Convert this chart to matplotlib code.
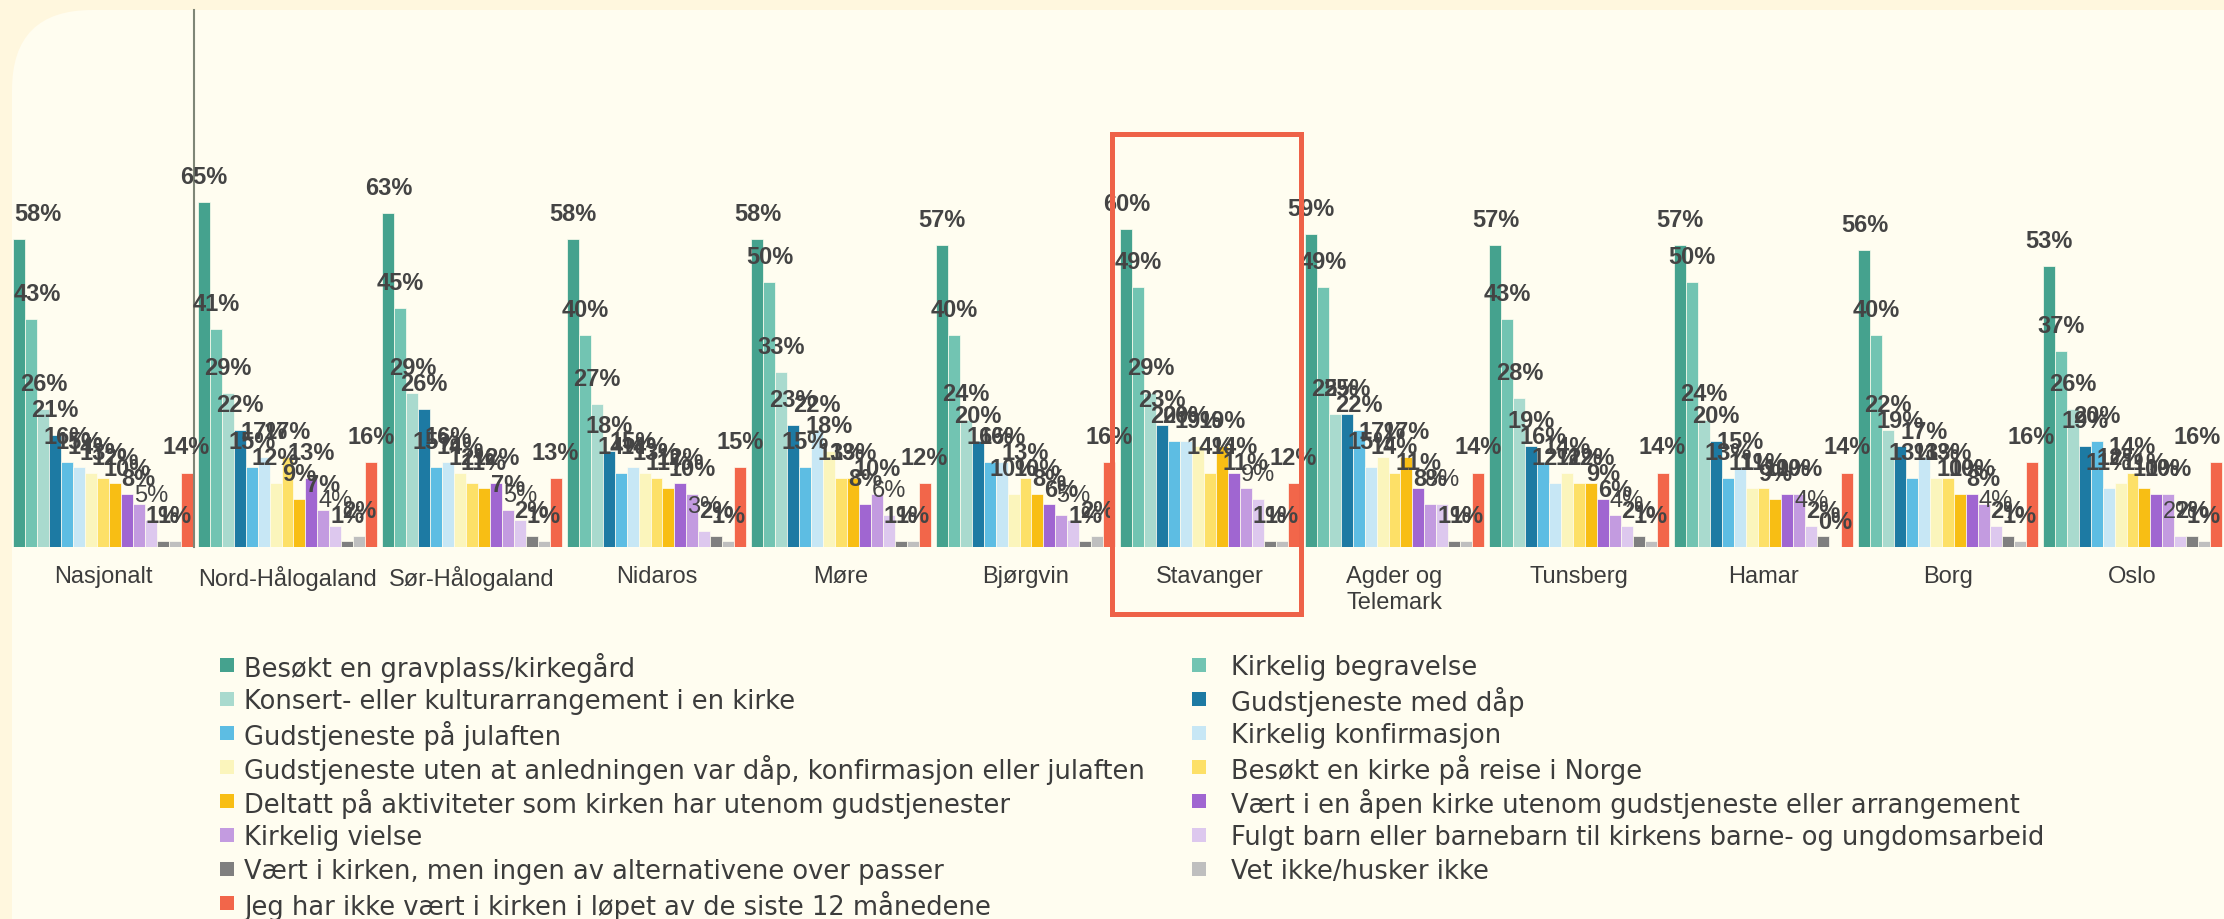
import matplotlib
matplotlib.use("Agg")
import matplotlib.pyplot as plt
import numpy as np
from matplotlib.patches import FancyBboxPatch, Rectangle
from matplotlib.transforms import IdentityTransform

# ---------------- data ----------------
regions = ["Nasjonalt", "Nord-Hålogaland", "Sør-Hålogaland", "Nidaros", "Møre",
           "Bjørgvin", "Stavanger", "Agder og\nTelemark", "Tunsberg", "Hamar",
           "Borg", "Oslo"]

series_names = [
    "Besøkt en gravplass/kirkegård",
    "Kirkelig begravelse",
    "Konsert- eller kulturarrangement i en kirke",
    "Gudstjeneste med dåp",
    "Gudstjeneste på julaften",
    "Kirkelig konfirmasjon",
    "Gudstjeneste uten at anledningen var dåp, konfirmasjon eller julaften",
    "Besøkt en kirke på reise i Norge",
    "Deltatt på aktiviteter som kirken har utenom gudstjenester",
    "Vært i en åpen kirke utenom gudstjeneste eller arrangement",
    "Kirkelig vielse",
    "Fulgt barn eller barnebarn til kirkens barne- og ungdomsarbeid",
    "Vært i kirken, men ingen av alternativene over passer",
    "Vet ikke/husker ikke",
    "Jeg har ikke vært i kirken i løpet av de siste 12 månedene",
]

gravplass      = [58, 65, 63, 58, 58, 57, 60, 59, 57, 57, 56, 53]
begravelse     = [43, 41, 45, 40, 50, 40, 49, 49, 43, 50, 40, 37]
konsert        = [26, 29, 29, 27, 33, 24, 29, 25, 28, 24, 22, 26]
daap           = [21, 22, 26, 18, 23, 20, 23, 25, 19, 20, 19, 19]
julaften       = [16, 15, 15, 14, 15, 16, 20, 22, 16, 13, 13, 20]
konfirmasjon   = [15, 17, 16, 15, 22, 16, 20, 15, 12, 15, 17, 11]
gudstj_uten    = [14, 12, 14, 14, 18, 10, 19, 17, 14, 11, 13, 12]
reise          = [13, 17, 12, 13, 13, 13, 14, 14, 12, 11, 13, 14]
aktiviteter    = [12, 9, 11, 11, 13, 10, 19, 17, 12, 9, 10, 11]
aapen_kirke    = [10, 13, 12, 12, 8, 8, 14, 11, 9, 10, 10, 10]
vielse         = [8, 7, 7, 10, 10, 6, 11, 8, 6, 10, 8, 10]
barn           = [5, 4, 5, 3, 6, 5, 9, 8, 4, 4, 4, 2]
ingen_alt      = [1, 1, 2, 2, 1, 1, 1, 1, 2, 2, 2, 2]
vet_ikke       = [1, 2, 1, 1, 1, 2, 1, 1, 1, 0, 1, 1]
ikke_vaert     = [14, 16, 13, 15, 12, 16, 12, 14, 14, 14, 16, 16]

series_values = [gravplass, begravelse, konsert, daap, julaften, konfirmasjon,
                 gudstj_uten, reise, aktiviteter, aapen_kirke, vielse, barn,
                 ingen_alt, vet_ikke, ikke_vaert]

colors = ["#45A28E", "#72C4B2", "#A9DACE", "#1D7AA3", "#5DBDE3", "#C7E7F5",
          "#FBF5BC", "#FDE067", "#F8BE14", "#A066D1", "#C39BE0", "#DDC8EE",
          "#7F7F7F", "#BFBFBF", "#F2664A"]

# ---------------- figure ----------------
W, H = 2224, 919
DPI = 100
plt.rcParams["font.family"] = ["Liberation Sans", "DejaVu Sans"]
fig = plt.figure(figsize=(W / DPI, H / DPI), dpi=DPI, facecolor="#FFF7DE")

# inner rounded panel (pixel coords, origin bottom-left)
panel = FancyBboxPatch((12, -120), 2400, (H - 10) + 120,
                       boxstyle="round,pad=0,rounding_size=80",
                       transform=IdentityTransform(), facecolor="#FFFDF0",
                       edgecolor="none", zorder=-10)
fig.add_artist(panel)

base_px = 546.7       # baseline y from top
top_px = 16.7         # 100 % level from top
ax = fig.add_axes([10 / W, (H - base_px) / H, (W - 10) / W, (base_px - top_px) / H])
ax.patch.set_alpha(0)
for s in ax.spines.values():
    s.set_visible(False)

n_groups = len(regions)
n_series = len(series_values)
bar_w = 0.0647
x = np.arange(n_groups)
offsets = (np.arange(n_series) - (n_series - 1) / 2) * bar_w

texts = []
for i, (vals, col) in enumerate(zip(series_values, colors)):
    bars = ax.bar(x + offsets[i], vals, width=bar_w, color=col,
                  edgecolor="#FFFDF0", linewidth=0.5, zorder=2)
    weight = "normal" if i == 11 else "bold"
    for b, v in zip(bars, vals):
        t = ax.annotate(f"{v}%", (b.get_x() + b.get_width() / 2, v),
                        xytext=(0, 13), textcoords="offset points",
                        ha="center", va="baseline", fontsize=17,
                        fontweight=weight, color="#444444", zorder=5)
        texts.append(t)

ax.set_xlim((10 - 103) / 184.5, (W - 103) / 184.5)
ax.set_ylim(0, 100)
ax.set_yticks([])
ax.set_xticks(x)
ax.set_xticklabels(regions, fontsize=17, color="#3C3C3C", linespacing=1.2)
ax.tick_params(axis="x", length=0, pad=14)

# separator line after first group
ax.axvline(0.492, ymin=0, ymax=(base_px - 10) / (base_px - top_px),
           color="#7F8677", lw=1.5, clip_on=False, zorder=3)

# keep labels inside the picture on both sides
fig.canvas.draw()
renderer = fig.canvas.get_renderer()
lim_left = ax.get_window_extent(renderer).x0 + 4
lim_right = W - 3
for t in texts:
    bb = t.get_window_extent(renderer)
    if bb.x0 < lim_left:
        t.xyann = (t.xyann[0] + (lim_left - bb.x0) / DPI * 72, t.xyann[1])
    elif bb.x1 > lim_right:
        t.xyann = (t.xyann[0] - (bb.x1 - lim_right) / DPI * 72, t.xyann[1])

# highlight rectangle around Stavanger
rect = Rectangle((1112 / W, (H - 614) / H), (1301 - 1112) / W, (614 - 134) / H,
                 transform=fig.transFigure, fill=False, edgecolor="#EE6248",
                 linewidth=3.6, zorder=10)
fig.add_artist(rect)

# legend: two columns, row-major order, aligned rows
leg_row0 = 665          # first row centre, px from top
leg_pitch = 34          # row pitch, px
leg_cols = [(227, 244), (1199, 1231)]   # (marker centre x, text start x) in px
sq = 14
for k, (name, col) in enumerate(zip(series_names, colors)):
    c = k % 2
    r = k // 2
    yc = leg_row0 + r * leg_pitch
    mx, tx = leg_cols[c]
    fig.add_artist(Rectangle(((mx - sq / 2) / W, (H - yc - sq / 2) / H), sq / W, sq / H,
                             transform=fig.transFigure, facecolor=col,
                             edgecolor="none"))
    fig.text(tx / W, (H - yc) / H, name, ha="left", va="center_baseline",
             fontsize=18.5, family=["DejaVu Sans"], color="#3C3C3C")

fig.savefig("out.png", dpi=DPI, facecolor=fig.get_facecolor())
